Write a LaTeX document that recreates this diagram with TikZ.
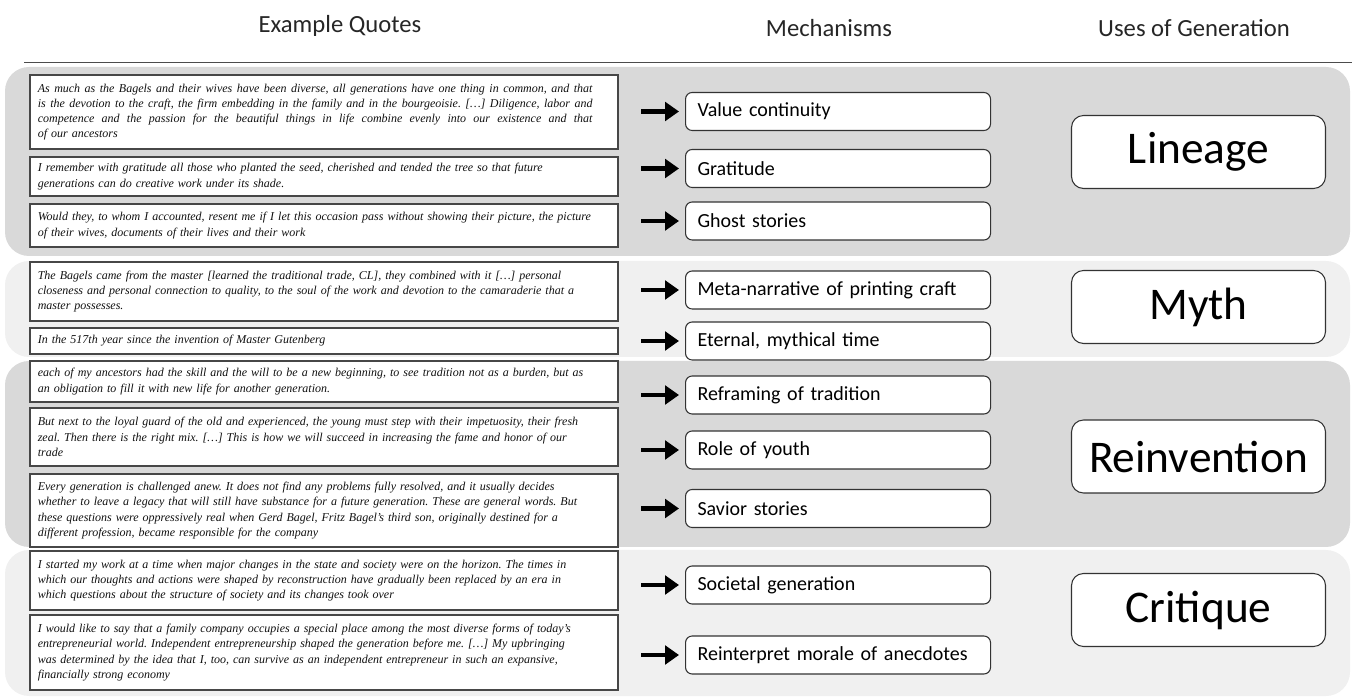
\documentclass[tikz,border=0pt]{standalone}
\usepackage{fontspec}
\setmainfont{Liberation Serif}
\newfontfamily\calib{Carlito}
\usetikzlibrary{arrows.meta,calc}
\definecolor{bandA}{HTML}{D9D9D9}
\definecolor{bandB}{HTML}{F0F0F0}
\definecolor{qtext}{HTML}{111111}
\newcommand{\jline}[1]{\leavevmode\hbox to 416pt{\spaceskip=0.25em plus 1fil\relax #1}}
\tikzset{
  band/.style={rounded corners=18pt},
  hdr/.style={font=\calib\fontsize{18.5}{22}\selectfont, text=black!85},
  quote/.style={draw=black!72, line width=1.2pt, fill=white, anchor=west,
    text width=429pt, inner xsep=6pt, inner ysep=0pt, align=left, text=qtext,
    font={\fontsize{9}{11.4}\selectfont\itshape\frenchspacing\hyphenpenalty=10000\relax}},
  mech/.style={draw=black!80, line width=0.8pt, fill=white, rounded corners=5pt,
    anchor=west, minimum width=228.75pt, minimum height=28.5pt,
    text width=210.75pt, inner xsep=9pt, align=left,
    font=\calib\fontsize{15}{18}\selectfont},
  usebox/.style={draw=black!80, line width=0.8pt, fill=white, rounded corners=9pt,
    minimum width=190.5pt, minimum height=54.75pt,
    font=\calib\fontsize{34}{40}\selectfont},
  arr/.style={line width=3.6pt, -{Triangle[length=10.5pt,width=14pt]}}
}
\begin{document}
\begin{tikzpicture}[x=0.75pt,y=-0.75pt]
\useasboundingbox (0,0) rectangle (1354,698);
% headers
\node[hdr] (h1) at (340,26) {Example Quotes};
\node[hdr] (h2) at (829,28) {Mechanisms};
\node[hdr] (h3) at (1194,28) {Uses of Generation};
\coordinate (hlA) at (24,62);
\coordinate (hlB) at (1352,62);
\draw[black!70, line width=0.7pt] (hlA) -- (hlB);
% bands
\fill[band, bandA] (5,67) rectangle (1350,256);
\fill[band, bandB] (5,261) rectangle (1350,357);
\fill[band, bandA] (5,361) rectangle (1350,547);
\fill[band, bandB] (5,550) rectangle (1350,696);
% quotes
\node[quote, minimum height=55.5pt] (q1) at (29,112) {\jline{As much as the Bagels and their wives have been diverse, all generations have one thing in common, and that}\\\jline{is the devotion to the craft, the firm embedding in the family and in the bourgeoisie. […] Diligence, labor and}\\\jline{competence and the passion for the beautiful things in life combine evenly into our existence and that}\\of our ancestors};
\node[quote, minimum height=29.25pt] (q2) at (29,176.5) {I remember with gratitude all those who planted the seed, cherished and tended the tree so that future\\generations can do creative work under its shade.};
\node[quote, minimum height=32.25pt] (q3) at (29,225.5) {Would they, to whom I accounted, resent me if I let this occasion pass without showing their picture, the picture\\of their wives, documents of their lives and their work};
\node[quote, minimum height=44.25pt] (q4) at (29,291.5) {The Bagels came from the master [learned the traditional trade, CL], they combined with it […] personal\\closeness and personal connection to quality, to the soul of the work and devotion to the camaraderie that a\\master possesses.};
\node[quote, minimum height=19.5pt] (q5) at (29,341) {In the 517th year since the invention of Master Gutenberg};
\node[quote, minimum height=30.75pt] (q6) at (29,381.5) {each of my ancestors had the skill and the will to be a new beginning, to see tradition not as a burden, but as\\an obligation to fill it with new life for another generation.};
\node[quote, minimum height=43.5pt] (q7) at (29,437) {But next to the loyal guard of the old and experienced, the young must step with their impetuosity, their fresh\\zeal. Then there is the right mix. […] This is how we will succeed in increasing the fame and honor of our\\trade};
\node[quote, minimum height=54.75pt] (q8) at (29,510.5) {Every generation is challenged anew. It does not find any problems fully resolved, and it usually decides\\whether to leave a legacy that will still have substance for a future generation. These are general words. But\\these questions were oppressively real when Gerd Bagel, Fritz Bagel’s third son, originally destined for a\\different profession, became responsible for the company};
\node[quote, minimum height=44.25pt] (q9) at (29,580.5) {I started my work at a time when major changes in the state and society were on the horizon. The times in\\which our thoughts and actions were shaped by reconstruction have gradually been replaced by an era in\\which questions about the structure of society and its changes took over};
\node[quote, minimum height=56.25pt] (q10) at (29,652.5) {I would like to say that a family company occupies a special place among the most diverse forms of today’s\\entrepreneurial world. Independent entrepreneurship shaped the generation before me. […] My upbringing\\was determined by the idea that I, too, can survive as an independent entrepreneur in such an expansive,\\financially strong economy};
% mechanisms
\node[mech] (m1) at (685,111.5) {Value continuity};
\node[mech] (m2) at (685,168.5) {Gratitude};
\node[mech] (m3) at (685,221) {Ghost stories};
\node[mech] (m4) at (685,290) {Meta-narrative of printing craft};
\node[mech] (m5) at (685,341) {Eternal, mythical time};
\node[mech] (m6) at (685,395) {Reframing of tradition};
\node[mech] (m7) at (685,450) {Role of youth};
\node[mech] (m8) at (685,508.5) {Savior stories};
\node[mech] (m9) at (685,585) {Societal generation};
\node[mech] (m10) at (685,655) {Reinterpret morale of anecdotes};
% arrows
\foreach \i in {1,...,10}{
  \draw[arr] ($(q\i.east |- m\i.west)+(17pt,0)$) -- ($(m\i.west)+(-4.5pt,0)$);
}
% uses
\node[usebox] (u1) at (1198.5,152) {Lineage};
\node[usebox] (u2) at (1198.5,307) {Myth};
\node[usebox] (u3) at (1198.5,456.5) {Reinvention};
\node[usebox] (u4) at (1198.5,610) {Critique};
\end{tikzpicture}
\end{document}
